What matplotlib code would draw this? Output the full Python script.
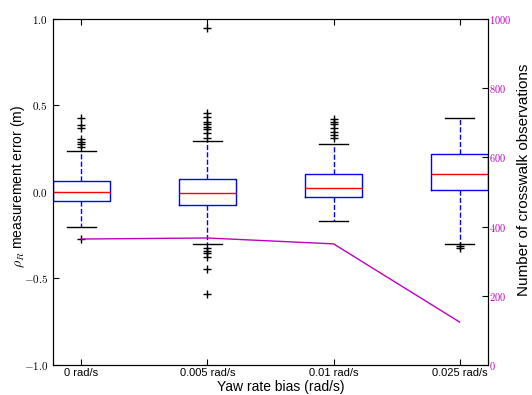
import numpy as np
import matplotlib
matplotlib.use('Agg')
import matplotlib.pyplot as plt
from matplotlib.ticker import FuncFormatter

plt.rcParams['font.family'] = 'Liberation Sans'
plt.rcParams['mathtext.fontset'] = 'cm'

labels = ['0 rad/s', '0.005 rad/s', '0.01 rad/s', '0.025 rad/s']
q1 = [-0.052, -0.077, -0.031, 0.012]
med = [-0.002, -0.004, 0.021, 0.102]
q3 = [0.065, 0.075, 0.102, 0.220]
whislo = [-0.200, -0.302, -0.169, -0.300]
whishi = [0.239, 0.293, 0.277, 0.426]
fliers = [
    [0.427, 0.387, 0.372, 0.305, 0.291, 0.276, 0.262, -0.273],
    [0.946, 0.455, 0.431, 0.406, 0.393, 0.378, 0.362, 0.343, 0.310,
     -0.326, -0.339, -0.354, -0.378, -0.447, -0.590],
    [0.420, 0.406, 0.391, 0.372, 0.349, 0.329, 0.310],
    [-0.312, -0.326],
]
n_obs = [364, 367, 350, 124]

stats = []
for i in range(len(labels)):
    stats.append(dict(med=med[i], q1=q1[i], q3=q3[i], whislo=whislo[i],
                      whishi=whishi[i], fliers=fliers[i], label=labels[i]))

fig = plt.figure(figsize=(5.32, 3.95), dpi=100)
ax = fig.add_axes([0.0996, 0.076, 0.8177, 0.876])
pos = np.arange(1, len(labels) + 1)
ax.bxp(stats, positions=pos, widths=0.45,
       boxprops=dict(color='b', linewidth=1),
       medianprops=dict(color='r', linewidth=1),
       whiskerprops=dict(color='b', linestyle='--', linewidth=1),
       capprops=dict(color='k', linewidth=1),
       flierprops=dict(marker='+', markeredgecolor='k', markersize=6,
                       linestyle='none'))
ax.set_xlim(0.775, 4.225)
ax.set_ylim(-1.0, 1.0)
ax.set_yticks([-1.0, -0.5, 0.0, 0.5, 1.0])
ax.yaxis.set_major_formatter(FuncFormatter(lambda v, p: r'$%.1f$' % v))
ax.tick_params(axis='y', direction='in', length=4, labelsize=8,
               left=True, right=False)
ax.tick_params(axis='x', direction='in', length=4, labelsize=8,
               top=True, bottom=True, pad=2)
ax.set_xticks(pos)
ax.set_xticklabels(labels)
ax.set_xlabel('Yaw rate bias (rad/s)', fontsize=10)
ax.xaxis.set_label_coords(0.523, -0.044)
ax.set_ylabel(r'$\rho_R$ measurement error (m)', fontsize=10)
ax.yaxis.set_label_coords(-0.06, 0.517)

ax2 = ax.twinx()
ax2.plot(pos, n_obs, color='m', linewidth=1)
ax2.set_ylim(0, 1000)
ax2.set_yticks([0, 200, 400, 600, 800, 1000])
ax2.yaxis.set_major_formatter(FuncFormatter(lambda v, p: r'$%d$' % v))
ax2.tick_params(axis='y', direction='in', length=4, labelsize=7.5,
                labelcolor='m', pad=1)
ax2.set_ylabel('Number of crosswalk observations', fontsize=11)
ax2.yaxis.set_label_coords(1.066, 0.535)
ax2.set_xlim(0.775, 4.225)

fig.savefig('out.png', dpi=100)
